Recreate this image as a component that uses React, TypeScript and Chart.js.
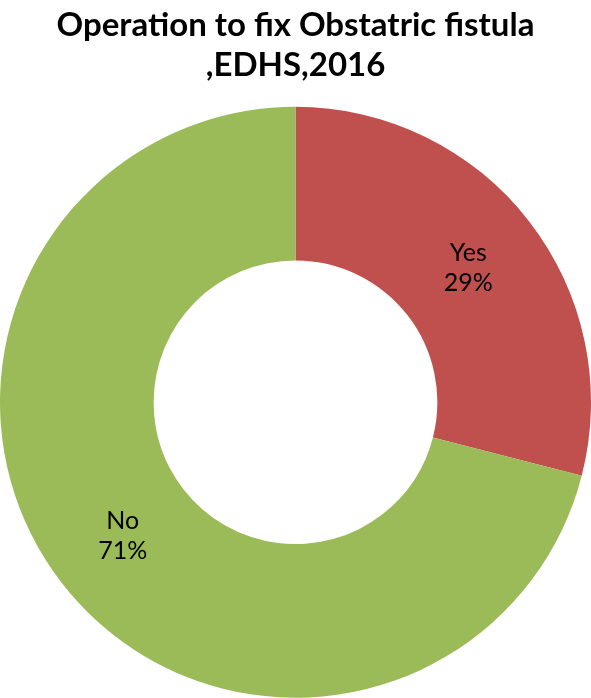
import React, { useEffect, useRef } from "react";
import { Chart, registerables } from "chart.js";

Chart.register(...registerables);

const categories = ["Yes", "No"];
const percentages = [29, 71];
const colors = ["#C0504D", "#9BBB59"];
const titleLines = ["Operation to fix Obstatric fistula", ",EDHS,2016"];

const labelPlugin = {
  id: "sliceLabels",
  afterDatasetsDraw(chart: any) {
    const ctx = chart.ctx;
    const meta = chart.getDatasetMeta(0);
    ctx.save();
    ctx.fillStyle = "#000000";
    ctx.font = "25px Lato";
    ctx.textAlign = "center";
    ctx.textBaseline = "middle";
    meta.data.forEach((arc: any, i: number) => {
      const p = arc.tooltipPosition();
      ctx.fillText(categories[i], p.x, p.y - 15);
      ctx.fillText(percentages[i] + "%", p.x, p.y + 15);
    });
    ctx.restore();
  },
};

export default function App() {
  const ref = useRef<HTMLCanvasElement | null>(null);
  useEffect(() => {
    if (!ref.current) return;
    const chart = new Chart(ref.current, {
      type: "doughnut",
      data: {
        labels: categories,
        datasets: [
          {
            data: percentages,
            backgroundColor: colors,
            borderWidth: 0,
          },
        ],
      },
      options: {
        responsive: false,
        animation: false,
        cutout: "48%",
        layout: { padding: 0 },
        plugins: {
          legend: { display: false },
          tooltip: { enabled: false },
          title: {
            display: true,
            text: titleLines,
            color: "#000000",
            font: { family: "Lato", size: 33, weight: "bold", lineHeight: 1.22 },
            padding: { top: 5, bottom: 21 },
          },
        },
      },
      plugins: [labelPlugin],
    });
    return () => chart.destroy();
  }, []);
  return (
    <canvas
      ref={ref}
      width={591}
      height={698}
      style={{ position: "absolute", left: 0, top: 0, display: "block" }}
    />
  );
}
